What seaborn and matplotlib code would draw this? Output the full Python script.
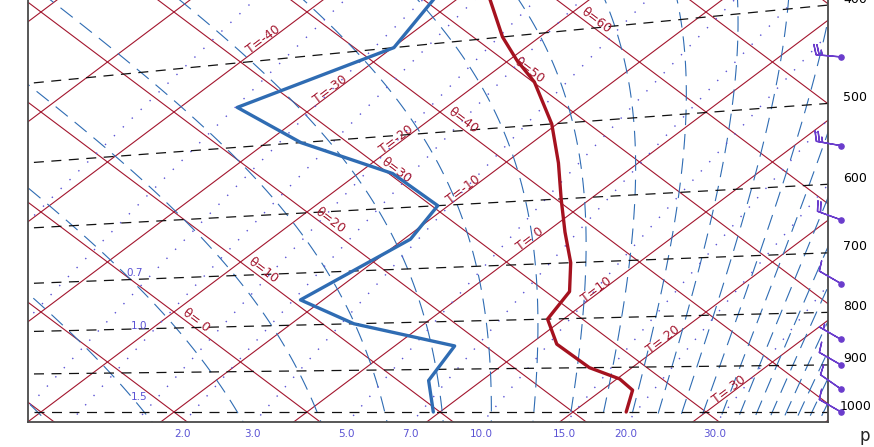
import matplotlib
matplotlib.use("Agg")

import matplotlib.pyplot as plt
import matplotlib.transforms as mtransforms
import seaborn as sns
import numpy as np
import pandas as pd

# temperature profile (hPa, degC)
temp_p = [1000, 950, 925, 900, 850, 800, 750, 700, 650, 600, 550, 500, 450, 425, 400, 350, 300]
temp_t = [24.0, 22.3, 20.2, 16.8, 12.0, 8.8, 7.7, 4.9, 1.4, -2.2, -6.0, -10.4, -15.9, -19.4, -22.8, -29.3, -37.0]

# dewpoint profile (hPa, degC)
dewp_p = [1000, 925, 850, 800, 750, 650, 600, 550, 500, 450, 400, 350, 300]
dewp_t = [9.5, 6.0, 4.5, -5.3, -11.7, -9.5, -10.8, -17.4, -27.4, -35.7, -29.9, -32.1, -40.0]

# winds at the right edge
wind_p = [1000, 950, 900, 850, 750, 650, 550, 450]
wind_dir = [300, 305, 300, 300, 300, 290, 280, 275]
wind_spd = [10, 10, 10, 5, 10, 20, 25, 25]

# background line sets
isobars = [400, 500, 600, 700, 800, 900, 1000]
isobar_labels = ["400", "500", "600", "700", "800", "900", "1000"]
isotherms = list(range(-70, 50, 10))
isentropes = list(range(-30, 100, 10))
moist_thetae = list(range(215, 495, 10))
mix_ratio = [0.2, 0.4, 0.7, 1.0, 1.5, 2.0, 3.0, 5.0, 7.0, 10.0, 15.0, 20.0, 30.0]
mix_labels = {0.7: "0.7", 1.0: "1.0", 1.5: "1.5", 2.0: "2.0", 3.0: "3.0", 5.0: "5.0",
              7.0: "7.0", 10.0: "10.0", 15.0: "15.0", 20.0: "20.0", 30.0: "30.0"}
mix_inside_p = {0.7: 690, 1.0: 795, 1.5: 962}

t_label_vals = [-40, -30, -20, -10, 0, 10, 20, 30]
t_label_txt = ["T=-40", "T=-30", "T=-20", "T=-10", "T= 0", "T=10", "T= 20", "T= 30"]
th_label_vals = [0, 10, 20, 30, 40, 50, 60]
th_label_txt = ["θ= 0", "θ=10", "θ=20", "θ=30", "θ=40", "θ=50", "θ=60"]

KAPPA = 0.286
RED = "#a3162e"
BLUE = "#2f6cb3"
DOTS = "#5a52d4"
PURPLE = "#6a3ccc"


def skew_xy(t, p):
    # tephigram-like frame: x = T + theta, y = theta - T
    t = np.asarray(t, float)
    p = np.asarray(p, float)
    th = (t + 273.15) * (1000.0 / p) ** KAPPA - 273.15
    return t + th, th - t


def sat_vp(tc):
    return 6.112 * np.exp(17.67 * tc / (tc + 243.5))


def dewpoint_from_w(w, p):
    e = w * p / (0.622 + w)
    a = np.log(e / 6.112)
    return 243.5 * a / (17.67 - a)


def theta_e(tk, p):
    es = sat_vp(tk - 273.15)
    r = 622.0 * es / (p - es)
    return (tk * (1000.0 / p) ** (0.2854 * (1 - 0.28e-3 * r))
            * np.exp((3.376 / tk - 0.00254) * r * (1 + 0.81e-3 * r)))


def moist_line(the, p):
    lo = np.full_like(p, 170.0)
    hi = np.full_like(p, 325.0)
    for _ in range(60):
        mid = 0.5 * (lo + hi)
        above = theta_e(mid, p) > the
        hi = np.where(above, mid, hi)
        lo = np.where(above, lo, mid)
    return 0.5 * (lo + hi) - 273.15


sns.set_style("white")
plt.rcParams["font.family"] = ["DejaVu Sans"]

fig = plt.figure(figsize=(8.74, 4.47), dpi=100)
ax = fig.add_axes([28 / 874, 25 / 447, 800 / 874, 460 / 447])
XMIN, XMAX, YMIN, YMAX = -41.95, 78.35, -2.0, 90.0
ax.set_xlim(XMIN, XMAX)
ax.set_ylim(YMIN, YMAX)
ax.set_xticks([])
ax.set_yticks([])
for side in ["left", "bottom", "right"]:
    ax.spines[side].set_color("#4a4a4a")
    ax.spines[side].set_linewidth(1.3)
ax.spines["top"].set_visible(False)

# isotherms and dry adiabats
for t in isotherms:
    ax.plot([t - 150, t + 250], [-150 - t, 250 - t], color=RED, lw=0.8, zorder=1)
for th in isentropes:
    ax.plot([th - 150, th + 150], [th + 150, th - 150], color=RED, lw=0.8, zorder=1)

# isobars
tt = np.linspace(-120, 80, 50)
for p in isobars:
    x, y = skew_xy(tt, np.full_like(tt, p))
    ax.plot(x, y, color="#111111", lw=0.9, ls=(0, (8, 6)), zorder=2)

# saturated adiabats
pp = np.geomspace(1060, 200, 120)
for the in moist_thetae:
    tc = moist_line(the, pp)
    x, y = skew_xy(tc, pp)
    ax.plot(x, y, color=BLUE, lw=0.8, ls=(0, (14, 8)), zorder=1)

# mixing ratio lines
pw = np.geomspace(1060, 300, 80)
for w in mix_ratio:
    td = dewpoint_from_w(w / 1000.0, pw)
    x, y = skew_xy(td, pw)
    ax.plot(x, y, color=DOTS, lw=1.0, ls=(0, (1, 8)), zorder=1)
    if w not in mix_labels:
        continue
    if w in mix_inside_p:
        lx, ly = skew_xy(dewpoint_from_w(w / 1000.0, mix_inside_p[w]), mix_inside_p[w])
        ax.annotate(mix_labels[w], xy=(lx, ly), xytext=(-18, 0), textcoords="offset pixels",
                    ha="center", va="center", color=DOTS, fontsize=7.5)
    else:
        bx = np.interp(YMIN, y, x)
        ax.annotate(mix_labels[w], xy=(bx, YMIN), xytext=(-2, -12), textcoords="offset pixels",
                    ha="center", va="center", color=DOTS, fontsize=7.5, annotation_clip=False)

# isotherm and dry adiabat labels
ang = np.degrees(np.arctan(5.0 / 6.65))
for t, s in zip(t_label_vals, t_label_txt):
    th = 34.0
    ax.text(t - 0.5 + th, th - (t - 0.5), s, rotation=ang, rotation_mode="anchor",
            ha="center", va="center", color=RED, fontsize=9, zorder=3, clip_on=True)
for th, s in zip(th_label_vals, th_label_txt):
    t = -17.5
    thv = th + 0.9
    ax.text(t + thv, thv - t, s, rotation=-ang, rotation_mode="anchor",
            ha="center", va="center", color=RED, fontsize=9, zorder=3, clip_on=True)

# sounding
tx, ty = skew_xy(temp_t, temp_p)
dx, dy = skew_xy(dewp_t, dewp_p)
df_t = pd.DataFrame({"X": tx, "Y": ty})
df_d = pd.DataFrame({"X": dx, "Y": dy})
sns.lineplot(data=df_t, x="X", y="Y", sort=False, estimator=None, color="#a5121f", lw=2.4, ax=ax, zorder=5)
sns.lineplot(data=df_d, x="X", y="Y", sort=False, estimator=None, color=BLUE, lw=2.4, ax=ax, zorder=5)
ax.set_xlabel("")
ax.set_ylabel("")


def right_edge_y(p):
    r = (1000.0 / np.asarray(p, float)) ** KAPPA
    tk = (XMAX + 2 * 273.15) / (1 + r)
    return tk * (r - 1)


# pressure labels at right
trans = mtransforms.blended_transform_factory(ax.transAxes, ax.transData)
for p, s in zip(isobars, isobar_labels):
    ax.annotate(s, xy=(1.034, right_edge_y(p)), xycoords=trans, xytext=(0, 6),
                textcoords="offset pixels", ha="center", va="center", fontsize=9,
                color="black", annotation_clip=False)
ax.text(1.046, -0.03, "p", transform=ax.transAxes, fontsize=12, ha="center", va="center")

# wind barbs
wy = right_edge_y(wind_p)
wx = np.full(len(wind_p), 1.01625)
rad = np.radians(wind_dir)
u = -np.array(wind_spd) * np.sin(rad)
v = -np.array(wind_spd) * np.cos(rad)
ax.barbs(wx, wy, u, v, transform=trans, length=6, color=PURPLE, lw=1.0, clip_on=False,
         sizes=dict(emptybarb=0.0), zorder=6)
ax.scatter(wx, wy, s=14, color=PURPLE, transform=trans, clip_on=False, zorder=7)

fig.savefig("out.png", dpi=100)
